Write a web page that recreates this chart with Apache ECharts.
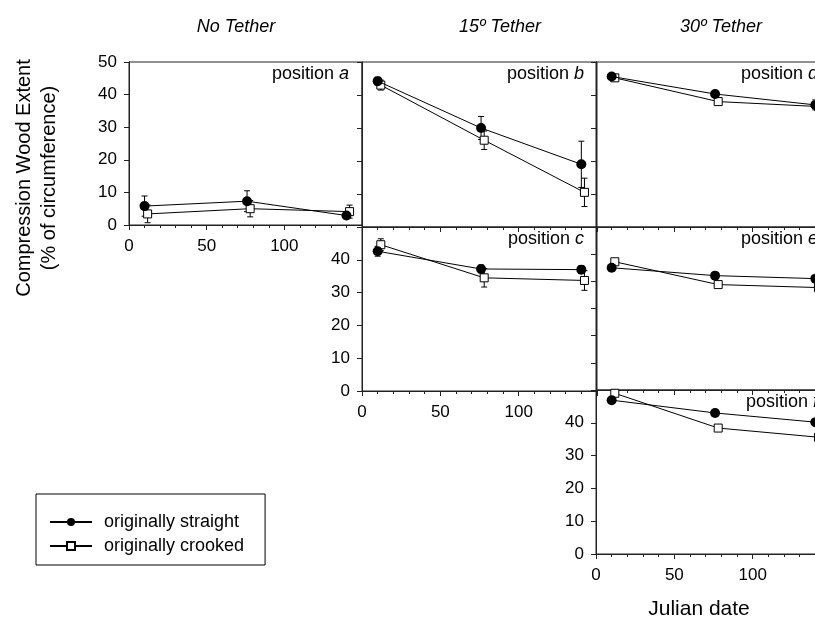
<!DOCTYPE html>
<html>
<head>
<meta charset="utf-8">
<script src="https://cdn.jsdelivr.net/npm/echarts@6/dist/echarts.min.js"></script>
<style>
  html, body { margin: 0; padding: 0; background: #fff; }
  #chart { width: 815px; height: 622px; }
</style>
</head>
<body>
<div id="chart"></div>
<script>
// julian dates of the three samplings (crooked points are drawn slightly offset, as in the figure)
var datesStraight = [10, 76, 140];
var datesCrooked = [12, 78, 142];

// compression wood extent (% of circumference) and error, per panel
var aStraight = [5.8, 7.3, 2.9],  aStraightErr = [3.1, 3.2, 1.0];
var aCrooked  = [3.4, 5.0, 4.1],  aCrookedErr  = [2.7, 2.5, 2.0];
var bStraight = [44.2, 30.0, 19.0], bStraightErr = [1.2, 3.5, 7.0];
var bCrooked  = [43.0, 26.3, 10.5], bCrookedErr  = [1.5, 2.8, 4.3];
var cStraight = [42.6, 37.2, 37.0], cStraightErr = [1.5, 1.2, 1.2];
var cCrooked  = [44.6, 34.5, 33.7], cCrookedErr  = [1.8, 2.8, 3.0];
var dStraight = [45.6, 40.3, 37.0], dStraightErr = [0.8, 0.8, 1.5];
var dCrooked  = [45.2, 38.0, 36.5], dCrookedErr  = [0.8, 0.8, 1.0];
var eStraight = [45.0, 42.1, 41.0], eStraightErr = [0.8, 0.8, 0.8];
var eCrooked  = [47.2, 38.8, 37.7], eCrookedErr  = [0.8, 0.8, 0.8];
var fStraight = [46.9, 43.0, 40.2], fStraightErr = [0.8, 0.8, 0.8];
var fCrooked  = [49.0, 38.4, 35.6], fCrookedErr  = [0.8, 0.8, 0.8];

var columnTitles = ['No Tether', '15º Tether', '30º Tether'];
var yTicks = [0, 10, 20, 30, 40, 50];
var xTicks = [0, 50, 100, 150];
var legendNames = ['originally straight', 'originally crooked'];

var FONT = '"Liberation Sans", Arial, sans-serif';
var AXIS = '#222';

// one entry per panel: grid box, y max, which labels show, panel letter and its data
var panels = [
  { g: [129, 62, 233, 163], yMax: 50, xl: true,  yl: true,  top: true,  letter: 'a', s: aStraight, se: aStraightErr, c: aCrooked, ce: aCrookedErr },
  { g: [362, 62, 235, 165], yMax: 50, xl: false, yl: false, top: false, letter: 'b', s: bStraight, se: bStraightErr, c: bCrooked, ce: bCrookedErr },
  { g: [362, 227, 235, 164], yMax: 50, xl: true, yl: true,  top: false, letter: 'c', s: cStraight, se: cStraightErr, c: cCrooked, ce: cCrookedErr },
  { g: [596, 62, 235, 165], yMax: 50, xl: false, yl: false, top: false, letter: 'd', s: dStraight, se: dStraightErr, c: dCrooked, ce: dCrookedErr },
  { g: [596, 227, 235, 163], yMax: 60, xl: false, yl: false, top: false, letter: 'e', s: eStraight, se: eStraightErr, c: eCrooked, ce: eCrookedErr },
  { g: [596, 390, 235, 164], yMax: 50, xl: true, yl: true,  top: false, letter: 'f', s: fStraight, se: fStraightErr, c: fCrooked, ce: fCrookedErr }
];

function pairs(xs, ys) {
  return xs.map(function (x, i) { return [x, ys[i]]; });
}
function triples(xs, ys, es) {
  return xs.map(function (x, i) { return [x, ys[i], es[i]]; });
}

function errorBar(params, api) {
  var x = api.value(0), y = api.value(1), e = api.value(2);
  var lo = api.coord([x, y - e]);
  var hi = api.coord([x, y + e]);
  var w = 3;
  var st = { stroke: '#000', lineWidth: 1 };
  return {
    type: 'group',
    children: [
      { type: 'line', shape: { x1: lo[0], y1: lo[1], x2: hi[0], y2: hi[1] }, style: st },
      { type: 'line', shape: { x1: hi[0] - w, y1: hi[1], x2: hi[0] + w, y2: hi[1] }, style: st },
      { type: 'line', shape: { x1: lo[0] - w, y1: lo[1], x2: lo[0] + w, y2: lo[1] }, style: st }
    ]
  };
}

var grid = [], xAxis = [], yAxis = [], series = [], graphic = [];

panels.forEach(function (p, i) {
  grid.push({
    left: p.g[0], top: p.g[1], width: p.g[2], height: p.g[3],
    outerBoundsMode: 'none', containLabel: false,
    show: true, borderColor: AXIS, borderWidth: 1
  });
  xAxis.push({
    gridIndex: i, type: 'value', min: xTicks[0], max: xTicks[xTicks.length - 1], interval: 50,
    axisLine: { show: true, onZero: false, lineStyle: { color: AXIS } },
    axisTick: { show: true, length: 5, lineStyle: { color: AXIS } },
    minorTick: { show: true, splitNumber: 5, length: 3, lineStyle: { color: AXIS } },
    splitLine: { show: false },
    axisLabel: { show: p.xl, showMaxLabel: false, fontSize: 17, fontFamily: FONT, color: '#000', margin: 13 }
  });
  yAxis.push({
    gridIndex: i, type: 'value', min: yTicks[0], max: p.yMax, interval: 10,
    axisLine: { show: true, onZero: false, lineStyle: { color: AXIS } },
    axisTick: { show: true, length: 5, lineStyle: { color: AXIS } },
    splitLine: { show: false },
    axisLabel: { show: p.yl, showMaxLabel: p.top, fontSize: 17, fontFamily: FONT, color: '#000', margin: 12 }
  });
  series.push({
    type: 'custom', xAxisIndex: i, yAxisIndex: i, renderItem: errorBar, z: 1, silent: true,
    data: triples(datesStraight, p.s, p.se)
  });
  series.push({
    type: 'custom', xAxisIndex: i, yAxisIndex: i, renderItem: errorBar, z: 1, silent: true,
    data: triples(datesCrooked, p.c, p.ce)
  });
  series.push({
    name: legendNames[1], type: 'line', xAxisIndex: i, yAxisIndex: i, z: 2, clip: false,
    symbol: 'rect', symbolSize: 8,
    itemStyle: { color: '#fff', borderColor: '#000', borderWidth: 1 },
    lineStyle: { color: '#000', width: 1 },
    data: pairs(datesCrooked, p.c)
  });
  series.push({
    name: legendNames[0], type: 'line', xAxisIndex: i, yAxisIndex: i, z: 3, clip: false,
    symbol: 'circle', symbolSize: 10,
    itemStyle: { color: '#000' },
    lineStyle: { color: '#000', width: 1 },
    data: pairs(datesStraight, p.s)
  });
  graphic.push({
    type: 'text', x: p.g[0] + p.g[2] - 13, y: p.g[1] + 12, z: 10,
    style: {
      text: '{n|position }{i|' + p.letter + '}', align: 'right', verticalAlign: 'middle',
      rich: {
        n: { fontSize: 18, fontFamily: FONT, fill: '#000' },
        i: { fontSize: 18, fontFamily: FONT, fontStyle: 'italic', fill: '#000' }
      }
    }
  });
});

var titleX = [236, 500, 721];
columnTitles.forEach(function (t, i) {
  graphic.push({
    type: 'text', x: titleX[i], y: 27,
    style: { text: t, align: 'center', verticalAlign: 'middle', fontSize: 18, fontStyle: 'italic', fontFamily: FONT, fill: '#000' }
  });
});

graphic.push({
  type: 'text', x: 24, y: 178, rotation: Math.PI / 2,
  style: { text: 'Compression Wood Extent', align: 'center', verticalAlign: 'middle', fontSize: 20, fontFamily: FONT, fill: '#000' }
});
graphic.push({
  type: 'text', x: 49, y: 178, rotation: Math.PI / 2,
  style: { text: '(% of circumference)', align: 'center', verticalAlign: 'middle', fontSize: 20, fontFamily: FONT, fill: '#000' }
});
graphic.push({
  type: 'text', x: 699, y: 609,
  style: { text: 'Julian date', align: 'center', verticalAlign: 'middle', fontSize: 21, fontFamily: FONT, fill: '#000' }
});

var chart = echarts.init(document.getElementById('chart'));
chart.setOption({
  animation: false,
  backgroundColor: '#fff',
  grid: grid,
  xAxis: xAxis,
  yAxis: yAxis,
  series: series,
  graphic: graphic,
  legend: {
    data: legendNames, orient: 'vertical', left: 36, top: 494,
    itemWidth: 42, itemHeight: 10, itemGap: 6,
    padding: [19, 21, 10, 13],
    borderColor: '#000', borderWidth: 1,
    selectedMode: false,
    textStyle: { fontSize: 18, fontFamily: FONT, color: '#000', padding: [0, 0, 0, 7] }
  }
});
</script>
</body>
</html>
